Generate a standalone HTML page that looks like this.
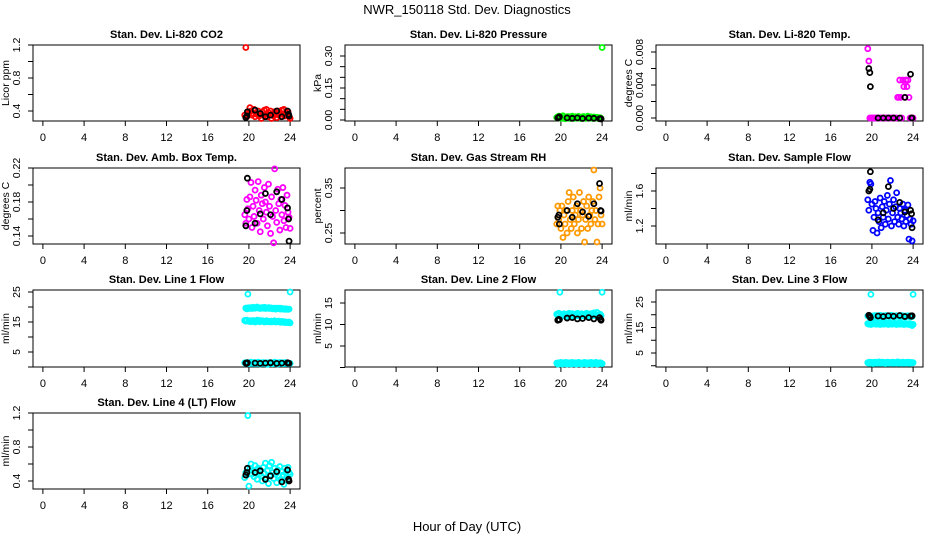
<!DOCTYPE html>
<html><head><meta charset="utf-8"><style>
html,body{margin:0;padding:0;background:#fff;}
svg{display:block;font-family:"Liberation Sans",Arial,sans-serif;}
</style></head><body>
<svg id="chart" width="936" height="540" viewBox="0 0 936 540" xmlns="http://www.w3.org/2000/svg">
<text x="467" y="14" text-anchor="middle" font-size="13">NWR_150118  Std. Dev. Diagnostics</text>
<text x="467" y="531" text-anchor="middle" font-size="13">Hour of Day (UTC)</text>
</svg>
<script>
// shared timestamps (hour of day)
const hoursColor = [19.6,19.7,19.8,19.9,20.0,20.1,20.2,20.3,20.4,20.5,20.6,20.7,20.8,20.9,21.0,21.1,21.2,21.3,21.4,21.5,21.6,21.7,21.8,21.9,22.0,22.1,22.2,22.3,22.4,22.5,22.6,22.7,22.8,22.9,23.0,23.1,23.2,23.3,23.4,23.5,23.6,23.7,23.8,23.9,24.0];
const hoursBlack = [19.7,19.8,19.85,20.6,21.1,21.6,22.1,22.7,23.2,23.75,23.85,23.9];
const xTicks = [0,4,8,12,16,20,24];

const co2Red = [0.35,1.17,0.33,0.36,0.38,0.44,0.40,0.35,0.37,0.42,0.33,0.38,0.36,0.40,0.34,0.37,0.31,0.39,0.35,0.41,0.36,0.42,0.33,0.38,0.35,0.40,0.31,0.37,0.34,0.39,0.36,0.32,0.40,0.35,0.38,0.33,0.41,0.36,0.42,0.34,0.38,0.35,0.39,0.33,0.31];
const co2Black = [0.32,0.34,0.39,0.41,0.37,0.33,0.35,0.40,0.33,0.40,0.36,0.34];

const presGreen = [0.012,0.015,0.018,0.010,0.008,0.012,0.020,0.010,0.006,0.014,0.009,0.016,0.011,0.007,0.013,0.018,0.010,0.008,0.015,0.012,0.009,0.017,0.011,0.007,0.014,0.010,0.016,0.012,0.008,0.013,0.018,0.010,0.009,0.015,0.011,0.007,0.014,0.012,0.009,0.013,0.010,0.008,0.011,0.007,0.34];
const presBlack = [0.010,0.012,0.015,0.010,0.008,0.010,0.007,0.009,0.008,0.006,0.007,0.005];

const tempMag = [0.0084,0.0069,0,0,0,0,0,0,0,0,0,0,0,0,0,0,0,0,0,0,0,0,0,0,0,0,0,0,0,0.0025,0.0025,0.0046,0.0025,0,0.0046,0.0038,0.0025,0.0046,0.0038,0.0046,0.0025,0,0,0,0];
const tempBlack = [0.0060,0.0055,0.0038,0,0,0,0,0,0.0025,0.0053,0,0];

const boxMag = [0.165,0.155,0.183,0.172,0.160,0.186,0.203,0.150,0.175,0.163,0.194,0.182,0.155,0.204,0.170,0.145,0.188,0.178,0.160,0.197,0.180,0.168,0.152,0.201,0.175,0.143,0.186,0.163,0.132,0.219,0.170,0.156,0.195,0.178,0.147,0.183,0.165,0.197,0.158,0.176,0.150,0.188,0.168,0.162,0.149];
const boxBlack = [0.152,0.170,0.208,0.155,0.166,0.190,0.165,0.192,0.183,0.173,0.160,0.134];

const rhOrange = [0.27,0.31,0.28,0.30,0.26,0.31,0.24,0.29,0.27,0.30,0.25,0.32,0.34,0.28,0.26,0.30,0.33,0.27,0.29,0.31,0.25,0.28,0.34,0.30,0.26,0.29,0.32,0.23,0.28,0.31,0.26,0.33,0.29,0.27,0.30,0.32,0.39,0.28,0.30,0.23,0.27,0.33,0.35,0.29,0.27];
const rhBlack = [0.285,0.290,0.270,0.300,0.285,0.315,0.297,0.287,0.315,0.360,0.300,0.299];

const flowBlue = [1.50,1.38,1.70,1.68,1.45,1.15,1.30,1.48,1.40,1.12,1.35,1.25,1.52,1.18,1.42,1.30,1.48,1.22,1.38,1.55,1.28,1.45,1.72,1.20,1.35,1.50,1.25,1.42,1.58,1.30,1.22,1.40,1.35,1.28,1.45,1.20,1.38,1.25,1.32,1.44,1.05,1.28,1.22,1.03,1.26];
const flowBlack = [1.60,1.62,1.82,1.27,1.35,1.65,1.40,1.47,1.36,1.38,1.34,1.18];

const l1CyanA = [15.5,19.6,19.4,19.7,19.5,19.8,19.6,19.5,19.9,19.7,19.6,19.8,20.0,19.7,19.6,19.5,19.8,19.7,19.6,19.9,19.5,19.7,19.6,19.8,19.5,19.7,19.6,19.4,19.6,19.5,19.3,19.6,19.5,19.4,19.6,19.3,19.5,19.4,19.3,19.2,19.4,19.3,19.2,19.3,25.0];
const l1CyanB = [15.5,15.3,15.6,24.3,15.2,15.4,15.1,15.3,15.5,15.2,15.0,15.4,15.6,15.3,15.1,15.5,15.2,15.4,15.3,15.0,15.2,15.4,15.1,15.3,15.2,15.0,15.3,15.1,15.2,15.4,15.0,15.2,15.1,15.3,15.0,14.9,15.2,15.0,15.1,14.8,15.0,14.9,14.8,15.0,14.7];
const l1CyanC = [1.4,1.2,1.5,1.3,1.1,1.4,1.6,1.2,1.3,1.5,1.1,1.4,1.2,1.6,1.3,1.0,1.4,1.2,1.5,1.3,1.1,1.4,0.9,1.3,1.5,1.2,1.4,1.1,1.3,1.6,1.2,1.4,1.0,1.3,1.5,1.2,1.4,1.1,1.3,1.5,1.2,1.4,1.3,1.1,1.2];
const l1Black = [1.3,1.2,1.4,1.3,1.2,1.3,1.4,1.2,1.3,1.4,1.3,1.2];

const l2CyanA = [12.4,12.1,12.6,17.5,11.9,12.3,12.0,12.5,12.2,11.8,12.4,12.1,12.6,12.0,12.3,12.5,11.9,12.2,12.4,12.0,12.6,12.1,12.3,11.9,12.5,12.2,12.0,12.4,12.1,12.6,12.3,11.9,12.2,12.5,12.0,12.4,12.7,12.1,12.3,12.8,12.2,12.0,12.4,12.1,17.5];
const l2CyanB = [1.0,0.8,1.1,0.9,1.2,0.8,1.0,1.1,0.9,1.2,0.8,1.0,1.1,0.9,0.8,1.2,1.0,0.9,1.1,0.8,1.0,1.2,0.9,1.1,0.8,1.0,0.9,1.2,1.0,0.8,1.1,0.9,1.0,1.2,0.8,1.1,0.9,1.0,1.2,0.8,1.0,0.9,1.1,1.0,0.9];
const l2Black = [11.0,11.2,11.1,11.5,11.6,11.3,11.4,11.6,11.3,11.6,11.2,11.0];

const l3CyanA = [19.5,19.3,19.6,28.0,19.2,19.5,19.4,19.7,19.3,19.6,19.2,19.5,19.8,19.4,19.3,19.6,19.5,19.2,19.7,19.4,19.5,19.3,19.6,19.8,19.4,19.2,19.5,19.3,19.6,19.4,19.5,19.2,19.7,19.3,19.6,19.4,19.2,19.5,19.3,19.6,19.4,19.2,19.5,19.3,28.0];
const l3CyanB = [16.5,16.3,16.8,16.2,16.6,16.4,16.9,16.5,16.3,16.7,16.4,16.6,16.2,16.8,16.5,16.3,16.7,16.4,16.6,16.5,16.2,16.8,16.4,16.6,16.3,16.5,16.7,16.4,16.2,16.6,16.5,16.3,16.7,16.4,16.5,16.2,16.6,16.3,16.5,16.4,16.2,16.5,16.3,15.8,16.2];
const l3CyanC = [1.2,1.0,1.4,1.1,1.3,0.9,1.2,1.4,1.0,1.3,1.1,1.5,1.0,1.2,1.4,1.1,1.3,0.9,1.2,1.4,1.0,1.3,1.1,1.2,1.4,1.0,1.3,1.1,1.2,1.5,1.0,1.3,1.1,1.2,1.4,1.0,1.2,1.3,1.1,1.4,1.0,1.2,1.3,1.1,1.2];
const l3Black = [19.8,19.4,18.9,19.5,19.3,19.6,19.4,19.7,19.3,19.5,19.4,19.6];

const l4Cyan = [0.44,0.50,0.47,1.17,0.34,0.55,0.60,0.48,0.52,0.45,0.58,0.50,0.42,0.55,0.48,0.53,0.46,0.40,0.56,0.49,0.61,0.44,0.52,0.37,0.58,0.47,0.62,0.50,0.43,0.55,0.48,0.38,0.53,0.46,0.57,0.42,0.51,0.47,0.36,0.55,0.49,0.44,0.56,0.50,0.48];
const l4Black = [0.47,0.50,0.55,0.50,0.52,0.42,0.46,0.51,0.39,0.53,0.42,0.40];

const panels = [
 {name:'co2',title:'Stan. Dev. Li-820 CO2',ylab:'Licor ppm',col:0,row:0,cal:[0.4,111,1.2,45],ticks:[0.4,0.6,0.8,1.0,1.2],labels:['0.4','','0.8','','1.2'],series:[[co2Red,'#ff0000']],black:co2Black},
 {name:'pressure',title:'Stan. Dev. Li-820 Pressure',ylab:'kPa',col:1,row:0,cal:[0,120,0.30,56],ticks:[0,0.05,0.10,0.15,0.20,0.25,0.30],labels:['0.00','','','0.15','','','0.30'],series:[[presGreen,'#00ff00']],black:presBlack},
 {name:'li-temp',title:'Stan. Dev. Li-820 Temp.',ylab:'degrees C',col:2,row:0,cal:[0,118,0.008,52],ticks:[0,0.002,0.004,0.006,0.008],labels:['0.000','','0.004','','0.008'],series:[[tempMag,'#ff00ff']],black:tempBlack},
 {name:'box-temp',title:'Stan. Dev. Amb. Box Temp.',ylab:'degrees C',col:0,row:1,cal:[0.14,236,0.22,168],ticks:[0.14,0.16,0.18,0.20,0.22],labels:['0.14','','0.18','','0.22'],series:[[boxMag,'#ff00ff']],black:boxBlack},
 {name:'rh',title:'Stan. Dev. Gas Stream RH',ylab:'percent',col:1,row:1,cal:[0.25,233,0.35,188],ticks:[0.25,0.30,0.35],labels:['0.25','','0.35'],series:[[rhOrange,'#ff9900']],black:rhBlack},
 {name:'sample-flow',title:'Stan. Dev. Sample Flow',ylab:'ml/min',col:2,row:1,cal:[1.2,226,1.6,191],ticks:[1.2,1.4,1.6,1.8],labels:['1.2','','1.6',''],series:[[flowBlue,'#0000ff']],black:flowBlack},
 {name:'line1',title:'Stan. Dev. Line 1 Flow',ylab:'ml/min',col:0,row:2,cal:[5,352,25,292],ticks:[0,5,10,15,20,25],labels:['','5','','15','','25'],series:[[l1CyanA,'#00ffff'],[l1CyanB,'#00ffff'],[l1CyanC,'#00ffff']],black:l1Black},
 {name:'line2',title:'Stan. Dev. Line 2 Flow',ylab:'ml/min',col:1,row:2,cal:[5,346,15,303],ticks:[0,5,10,15],labels:['','5','10','15'],series:[[l2CyanA,'#00ffff'],[l2CyanB,'#00ffff']],black:l2Black},
 {name:'line3',title:'Stan. Dev. Line 3 Flow',ylab:'ml/min',col:2,row:2,cal:[5,353,25,302],ticks:[0,5,10,15,20,25],labels:['','5','','15','','25'],series:[[l3CyanA,'#00ffff'],[l3CyanB,'#00ffff'],[l3CyanC,'#00ffff']],black:l3Black},
 {name:'line4',title:'Stan. Dev. Line 4 (LT) Flow',ylab:'ml/min',col:0,row:3,cal:[0.4,481,1.2,413],ticks:[0.4,0.6,0.8,1.0,1.2],labels:['0.4','','0.8','','1.2'],series:[[l4Cyan,'#00ffff']],black:l4Black}
];
const colLeft = [33,345,656];
const rowTop = [45,168,290,413];
const rowBot = [121,244,367,489];
const W = 267;
const NS = 'http://www.w3.org/2000/svg';
const svg = document.getElementById('chart');
function mk(tag, attrs, parent){
  const e = document.createElementNS(NS, tag);
  for (const k in attrs) e.setAttribute(k, attrs[k]);
  (parent||svg).appendChild(e);
  return e;
}
panels.forEach(p => {
  const L = colLeft[p.col], R = L + W, T = rowTop[p.row], B = rowBot[p.row];
  const xs = h => L + (h + 0.96) / 25.92 * W;
  const c = p.cal;
  const ys = v => c[1] + (v - c[0]) * (c[3] - c[1]) / (c[2] - c[0]);
  const g = mk('g', {});
  
  
  const box = mk('rect', {x:L, y:T, width:W, height:B-T, fill:'none', stroke:'#000', 'stroke-width':1}, g);
  
  
  const tt = mk('text', {x:(L+R)/2, y:T-7, 'text-anchor':'middle', 'font-size':11, 'font-weight':'bold'}, g);
  tt.textContent = p.title;
  
  
  const xa = mk('g', {}, g);
  
  
  mk('line', {x1:xs(xTicks[0]), x2:xs(xTicks[xTicks.length-1]), y1:B, y2:B, stroke:'#000'}, xa);
  xTicks.forEach(t => {
    mk('line', {x1:xs(t), x2:xs(t), y1:B, y2:B+5, stroke:'#000'}, xa);
    const tl = mk('text', {x:xs(t), y:B+20, 'text-anchor':'middle', 'font-size':11}, xa);
    tl.textContent = t;
    
    
  });
  const ya = mk('g', {}, g);
  
  
  mk('line', {x1:L, x2:L, y1:ys(p.ticks[0]), y2:ys(p.ticks[p.ticks.length-1]), stroke:'#000'}, ya);
  p.ticks.forEach((t,i) => {
    const y = ys(t);
    mk('line', {x1:L-5, x2:L, y1:y, y2:y, stroke:'#000'}, ya);
    if (p.labels[i]) {
      const tl = mk('text', {x:L-13, y:y, 'text-anchor':'middle', 'font-size':10.5, transform:'rotate(-90 '+(L-13)+' '+y+')'}, ya);
      tl.textContent = p.labels[i];
      
      
    }
  });
  const yl = mk('text', {x:L-24, y:(T+B)/2, 'text-anchor':'middle', 'font-size':10.5, transform:'rotate(-90 '+(L-24)+' '+((T+B)/2)+')'}, g);
  yl.textContent = p.ylab;
  
  
  p.series.forEach(s => {
    s[0].forEach((v,i) => {
      const pt = mk('circle', {cx:xs(hoursColor[i]), cy:ys(v), r:2.5, fill:'none', stroke:s[1], 'stroke-width':1.8}, g);
      
      
    });
  });
  p.black.forEach((v,i) => {
    const pt = mk('circle', {cx:xs(hoursBlack[i]), cy:ys(v), r:2.5, fill:'none', stroke:'#000', 'stroke-width':1.8}, g);
    
    
  });
});
</script>
</body></html>
